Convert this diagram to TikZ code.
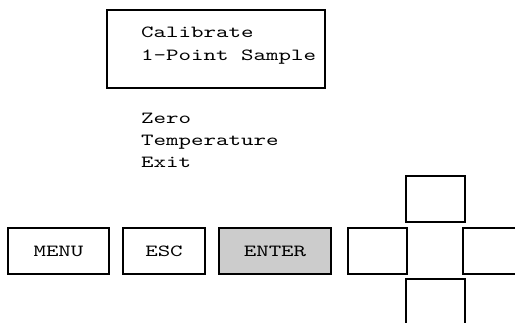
\documentclass[tikz,border=0pt]{standalone}
\usepackage{fontspec}
\newfontfamily\lcdfont[FakeStretch=1.4]{lmmono10-regular.otf}
\usetikzlibrary{positioning}

\begin{document}
\begin{tikzpicture}[
    x=1pt, y=-1pt,
    every node/.style={font=\lcdfont\fontsize{17}{22}\selectfont},
    frame/.style={draw=black, line width=1.2pt, inner sep=0pt},
    key/.style={frame, minimum height=46pt},
    arrowkey/.style={key, minimum width=59pt},
    textline/.style={anchor=base west, inner sep=0pt}
]
\clip (0,0) rectangle (515,323);
\fill[white] (0,0) rectangle (515,323);

% display
\node[frame, minimum width=218pt, minimum height=78pt] (display) at (216,49) {};
\node[textline] (title) at (141,38) {Calibrate};
\node[textline] (sample) at (141,61) {1-Point Sample};

% menu entries
\node[textline] (zero) at (141,124) {Zero};
\node[textline] (temp) at (141,146) {Temperature};
\node[textline] (exit) at (141,168) {Exit};

% buttons
\node[key, minimum width=101pt] (menu) at (58.5,251) {MENU};
\node[key, minimum width=82pt] (esc) at (164,251) {ESC};
\node[key, minimum width=112pt, fill=black!20] (enter) at (275,251) {ENTER};

% arrow keys
\node[arrowkey] (left) at (377.5,251) {};
\node[arrowkey] (up) at (435.5,199) {};
\node[arrowkey] (right) at (492.5,251) {};
\node[arrowkey] (down) at (435.5,302) {};
\end{tikzpicture}
\end{document}
